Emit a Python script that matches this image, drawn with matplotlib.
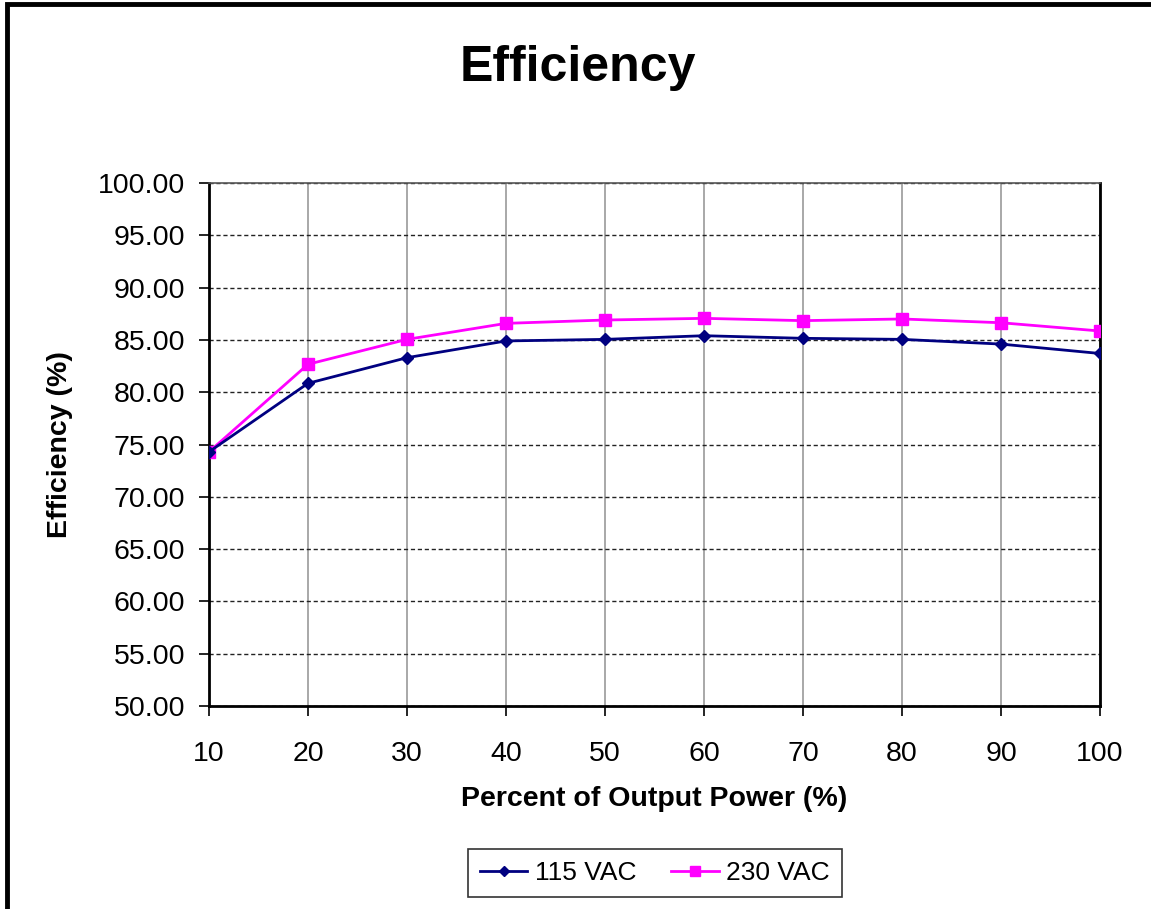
import matplotlib
matplotlib.use("Agg")
import matplotlib.pyplot as plt
from matplotlib.patches import Rectangle

plt.rcParams['font.family'] = ['Liberation Sans', 'DejaVu Sans']

power = [10, 20, 30, 40, 50, 60, 70, 80, 90, 100]
eff_115 = [74.3, 80.85, 83.3, 84.9, 85.05, 85.4, 85.15, 85.05, 84.6, 83.7]
eff_230 = [74.3, 82.67, 85.05, 86.58, 86.9, 87.06, 86.84, 87.0, 86.64, 85.85]
yticks = [50, 55, 60, 65, 70, 75, 80, 85, 90, 95, 100]

fig = plt.figure(figsize=(11.51, 9.09), dpi=100)
ax = fig.add_axes([0.1816, 0.2233, 0.9557 - 0.1816, 0.7987 - 0.2233])

ax.plot(power, eff_115, color='#000080', lw=2, marker='D', ms=6,
        label='115 VAC', zorder=4)
ax.plot(power, eff_230, color='#FF00FF', lw=2, marker='s', ms=9,
        label='230 VAC', zorder=3)

ax.set_xlim(10, 100)
ax.set_ylim(50, 100)
ax.set_xticks(power)
ax.set_yticks(yticks)
ax.set_yticklabels([f"{v:.2f}" for v in yticks])
ax.tick_params(direction='out', length=7, width=1.2, labelsize=20.5, pad=10)
ax.tick_params(axis='x', pad=18)

ax.yaxis.grid(True, color='#222222', ls=(0, (3, 2)), lw=1)
ax.xaxis.grid(True, color='#999999', ls='-', lw=1.2)
ax.set_axisbelow(True)

for s in ['left', 'bottom', 'right']:
    ax.spines[s].set_color('black')
    ax.spines[s].set_linewidth(2)
ax.spines['top'].set_color('#555555')
ax.spines['top'].set_linewidth(1.2)

ax.set_xlabel('Percent of Output Power (%)', fontsize=20.5, fontweight='bold', labelpad=14)
ax.set_ylabel('Efficiency (%)', fontsize=20.5, fontweight='bold', labelpad=18)

fig.text(0.502, 1 - 68 / 909, 'Efficiency', ha='center', va='center',
         fontsize=36, fontweight='bold')

leg = fig.legend(loc='center', ncol=2,
                 fontsize=19, frameon=True, fancybox=False, edgecolor='black',
                 handlelength=1.8, handletextpad=0.3, columnspacing=1.3,
                 borderpad=0.45, markerscale=0.8)
leg.set_bbox_to_anchor((0.569, 1 - 873 / 909), transform=fig.transFigure)
leg.get_frame().set_linewidth(1.2)

fig.patches.append(Rectangle((7 / 1151, -0.05), 1.2, 1.05 - 4 / 909,
                             transform=fig.transFigure, fill=False,
                             edgecolor='black', lw=3.5))

fig.savefig('out.png', dpi=100)
